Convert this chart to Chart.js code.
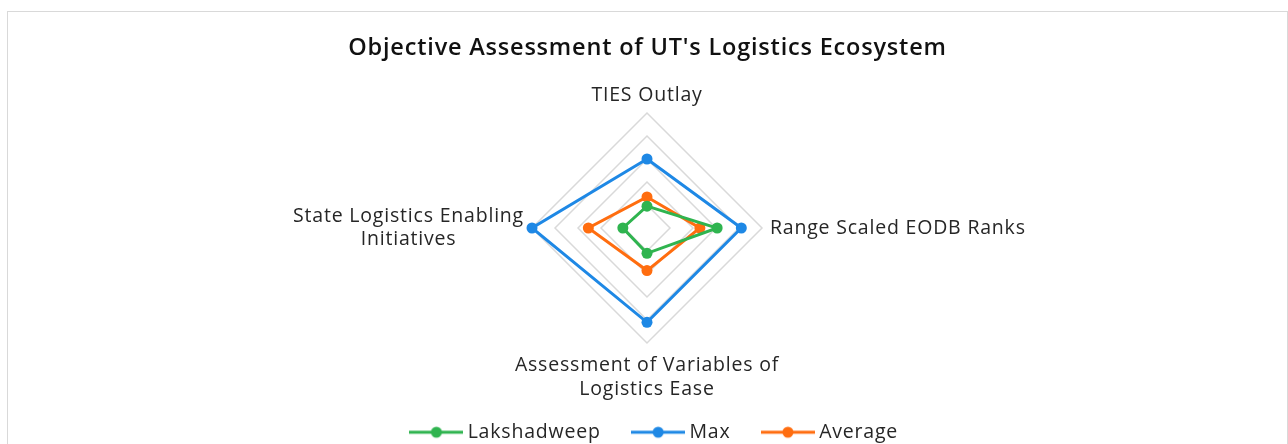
<!DOCTYPE html>
<html>
<head>
<meta charset="utf-8">
<script src="https://cdn.jsdelivr.net/npm/chart.js@4"></script>
<style>
  body { margin: 0; background: #fff; }
  #wrap { position: absolute; left: 7px; top: 11px; width: 1279px; height: 440px; border: 1px solid #d9d9d9; border-bottom: none; }
</style>
</head>
<body>
<div id="wrap"><canvas id="radarChart"></canvas></div>
<script>
const axisLabels = [
    'TIES Outlay',
    'Range Scaled EODB Ranks',
    ['Assessment of Variables of', 'Logistics Ease'],
    ['State Logistics Enabling', 'Initiatives']
];
const lakshadweep = [0.19, 0.61, 0.22, 0.21];
const maxValues = [0.60, 0.82, 0.82, 1.00];
const average = [0.27, 0.46, 0.37, 0.51];

const FONT = '"Open Sans", sans-serif';
const TEXT = '#262626';
const SPACING = '0.8px';

// little line + dot for the legend
function legendMarker(color) {
    const c = document.createElement('canvas');
    c.width = 54;
    c.height = 14;
    const g = c.getContext('2d');
    g.strokeStyle = color;
    g.lineWidth = 3;
    g.beginPath();
    g.moveTo(0, 7);
    g.lineTo(54, 7);
    g.stroke();
    g.fillStyle = color;
    g.beginPath();
    g.arc(27, 7, 5.5, 0, Math.PI * 2);
    g.fill();
    return c;
}

// the original font is a bit wider, so space the letters out a little
const letterSpacingPlugin = {
    id: 'letterSpacing',
    beforeUpdate(chart) { chart.ctx.letterSpacing = SPACING; },
    beforeLayout(chart) { chart.ctx.letterSpacing = SPACING; },
    beforeDraw(chart) { chart.ctx.letterSpacing = SPACING; },
    afterLayout(chart) {
        // legend sits slightly right of centre in the original
        chart.legend.left += 9;
        chart.legend.right += 9;
    }
};

// draw axis labels ourselves so multi-line ones stay centred
const axisLabelPlugin = {
    id: 'axisLabelText',
    afterDraw(chart) {
        const scale = chart.scales.r;
        const ctx = chart.ctx;
        const lineH = 23.5;
        ctx.save();
        ctx.letterSpacing = SPACING;
        ctx.font = '19.5px ' + FONT;
        ctx.fillStyle = TEXT;
        ctx.textAlign = 'center';
        ctx.textBaseline = 'middle';
        chart.data.labels.forEach((label, i) => {
            const lines = Array.isArray(label) ? label : [label];
            const probe = scale.getPointPosition(i, scale.drawingArea);
            const cos = Math.cos(probe.angle);
            const sin = Math.sin(probe.angle);
            let gap = 8;
            if (Math.abs(cos) < 0.1) gap = sin < 0 ? 6 : 11;
            const pos = scale.getPointPosition(i, scale.drawingArea + gap);
            const blockW = Math.max(...lines.map(l => ctx.measureText(l).width));
            const blockH = lines.length * lineH;
            let cx, top;
            if (Math.abs(cos) < 0.1) {
                cx = pos.x;
                top = sin < 0 ? pos.y - blockH : pos.y;
            } else {
                top = pos.y - blockH / 2;
                cx = cos > 0 ? pos.x + blockW / 2 : pos.x - blockW / 2;
            }
            lines.forEach((l, k) => ctx.fillText(l, cx, top + lineH * (k + 0.5)));
        });
        ctx.restore();
    }
};

function series(label, data, color) {
    return {
        label: label,
        data: data,
        borderColor: color,
        backgroundColor: color,
        pointBackgroundColor: color,
        pointBorderWidth: 0,
        pointRadius: 5.5,
        borderWidth: 3,
        fill: false
    };
}

const ctx = document.getElementById('radarChart').getContext('2d');
const radarChart = new Chart(ctx, {
    type: 'radar',
    data: {
        labels: axisLabels,
        datasets: [
            series('Lakshadweep', lakshadweep, '#2fb44f'),
            series('Max', maxValues, '#1e88e5'),
            series('Average', average, '#ff6d0f')
        ]
    },
    plugins: [letterSpacingPlugin, axisLabelPlugin],
    options: {
        responsive: true,
        maintainAspectRatio: false,
        animation: false,
        layout: {
            padding: { top: 0, bottom: 0, left: 0, right: 0 }
        },
        scales: {
            r: {
                min: 0,
                max: 1,
                ticks: { display: false, stepSize: 0.2 },
                grid: { color: '#d9d9d9', lineWidth: 1.5 },
                angleLines: { display: false },
                pointLabels: { display: false }
            }
        },
        plugins: {
            title: {
                display: true,
                text: "Objective Assessment of UT's Logistics Ecosystem",
                color: '#111111',
                font: { family: FONT, size: 23.5, weight: '600' },
                padding: { top: 22, bottom: 51.5 }
            },
            legend: {
                position: 'bottom',
                title: {
                    display: true,
                    text: '',
                    font: { size: 12 },
                    padding: { top: 14, bottom: 14 }
                },
                labels: {
                    usePointStyle: true,
                    pointStyleWidth: 43,
                    padding: 36,
                    color: TEXT,
                    font: { family: FONT, size: 19.5 },
                    generateLabels(chart) {
                        const items = Chart.defaults.plugins.legend.labels.generateLabels(chart);
                        items.forEach(item => {
                            item.pointStyle = legendMarker(chart.data.datasets[item.datasetIndex].borderColor);
                        });
                        return items;
                    }
                }
            },
            tooltip: { enabled: false }
        }
    }
});
</script>
</body>
</html>
